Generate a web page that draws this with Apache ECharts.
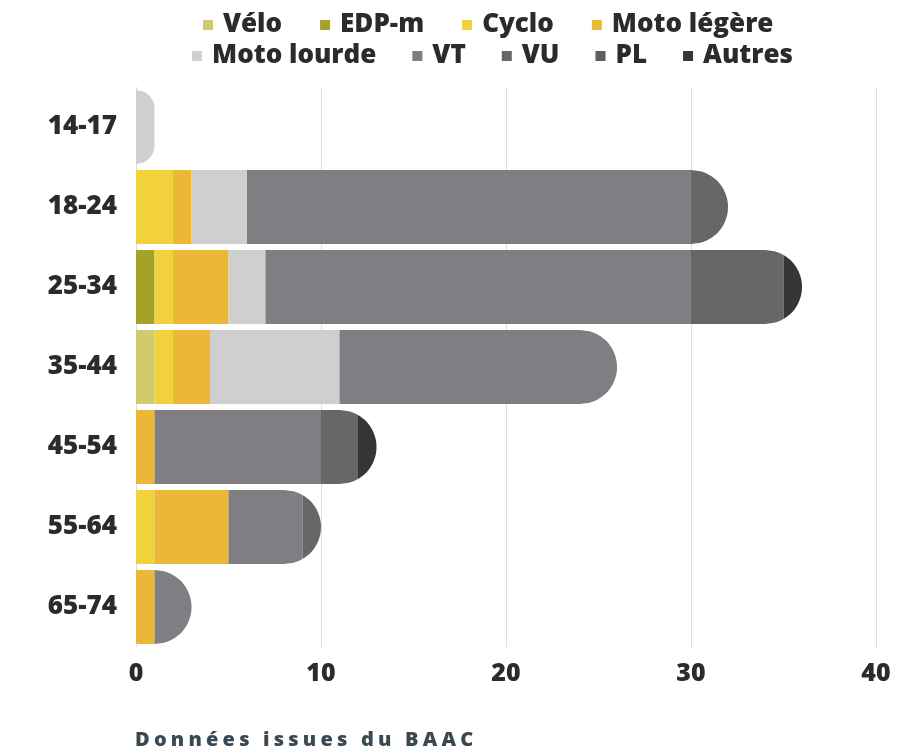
<!DOCTYPE html>
<html>
<head>
<meta charset="utf-8">
<script src="https://cdn.jsdelivr.net/npm/echarts@6/dist/echarts.min.js"></script>
<style>
html,body{margin:0;padding:0;background:#fff;}
#chart{width:915px;height:748px;position:absolute;left:0;top:0;}
#src{position:absolute;left:135px;top:725px;font-family:"Open Sans",sans-serif;font-weight:800;font-size:20px;letter-spacing:4.2px;color:#3a4852;white-space:nowrap;}
</style>
</head>
<body>
<div id="chart"></div>
<div id="src">Données issues du BAAC</div>
<script>
const categories = ['14-17','18-24','25-34','35-44','45-54','55-64','65-74'];
const seriesNames = ['Vélo','EDP-m','Cyclo','Moto légère','Moto lourde','VT','VU','PL','Autres'];
const velo       = [0,0,0,1,0,0,0];
const edpm       = [0,0,1,0,0,0,0];
const cyclo      = [0,2,1,1,0,1,0];
const motoLegere = [0,1,3,2,1,4,1];
const motoLourde = [1,3,2,7,0,0,0];
const vt         = [0,24,23,15,9,4,2];
const vu         = [0,2,5,0,2,1,0];
const pl         = [0,0,0,0,0,0,0];
const autres     = [0,0,1,0,1,0,0];
const xTicks = [0,10,20,30,40];

const values = [velo,edpm,cyclo,motoLegere,motoLourde,vt,vu,pl,autres];
const colors = ['#d0cb6c','#a6a227','#f2d23a','#eab737','#cfcfcf','#807d83','#676767','#5e5e5e','#363636'];

const totals = categories.map((c,i)=>values.reduce((s,a)=>s+a[i],0));
const BAR_RATIO = 0.925;

function renderItem(params, api){
  const a = api.value(0), b = api.value(1), cat = api.value(2), tot = api.value(3);
  const pa = api.coord([a,cat]), pb = api.coord([b,cat]);
  const p0 = api.coord([0,cat]), pt = api.coord([tot,cat]);
  const h = api.size([0,1])[1]*BAR_RATIO;
  const cy = pa[1];
  const X = pt[0];
  const r = Math.min(h/2, X - p0[0]);
  const xa = pa[0], xb = pb[0];
  const N = 60;
  const right = [], left = [];
  for(let k=0;k<=N;k++){
    const y = cy - h/2 + h*k/N;
    const dy = Math.abs(y-cy);
    let xr = X;
    const lim = h/2 - r;
    if(dy > lim){
      const t = dy - lim;
      xr = X - r + Math.sqrt(Math.max(0, r*r - t*t));
    }
    let x = Math.min(xb, xr);
    if(x < xa) x = xa;
    right.push([x,y]);
    left.push([xa,y]);
  }
  const pts = right.concat(left.reverse());
  return {type:'polygon', shape:{points:pts}, style:{fill:api.visual('color')}};
}

const series = seriesNames.map((name,si)=>{
  const data = [];
  categories.forEach((c,ci)=>{
    let start = 0;
    for(let k=0;k<si;k++) start += values[k][ci];
    const v = values[si][ci];
    if(v>0) data.push([start,start+v,ci,totals[ci]]);
  });
  return {
    type:'custom', name:name, renderItem:renderItem,
    itemStyle:{color:colors[si]},
    encode:{x:[0,1], y:2},
    data:data
  };
});

const fontFam = '"Open Sans", sans-serif';
const legendText = {fontFamily:fontFam,fontWeight:800,fontSize:26,color:'#2b2b2b',padding:[0,0,0,5]};

const chart = echarts.init(document.getElementById('chart'), null, {renderer:'canvas'});
chart.setOption({
  animation:false,
  color:colors,
  legend:[
    {data:seriesNames.slice(0,4), top:7, left:198, icon:'rect', itemWidth:10, itemHeight:10, itemGap:38, textStyle:legendText},
    {data:seriesNames.slice(4), top:38, left:187, icon:'rect', itemWidth:10, itemHeight:10, itemGap:36, textStyle:legendText}
  ],
  grid:{left:136, right:39, top:87, bottom:101, containLabel:false},
  xAxis:{
    type:'value', min:0, max:40, interval:10,
    axisLine:{show:false}, axisTick:{show:false},
    splitLine:{show:true, lineStyle:{color:'#dddddd', width:1}},
    axisLabel:{fontFamily:fontFam, fontWeight:800, fontSize:25, color:'#2b2b2b', margin:14,
      formatter:(v)=> xTicks.includes(v) ? String(v) : ''}
  },
  yAxis:{
    type:'category', data:categories, inverse:true,
    axisLine:{show:false}, axisTick:{show:false}, splitLine:{show:false},
    axisLabel:{fontFamily:fontFam, fontWeight:800, fontSize:26, color:'#2b2b2b', margin:19}
  },
  series:series
});
</script>
</body>
</html>
